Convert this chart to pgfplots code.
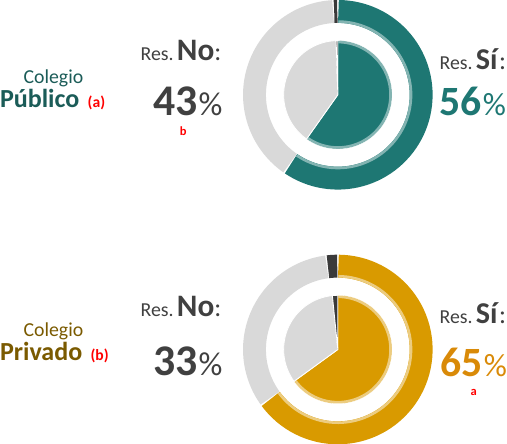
\documentclass[border=0pt]{standalone}
\usepackage{pgfplots}
\pgfplotsset{compat=1.18}
\usepackage{pgfplotstable}
\usepackage{fontspec}
\setmainfont{Carlito}
\definecolor{tealA}{HTML}{1E7773}
\definecolor{tealT}{HTML}{1B5C58}
\definecolor{goldA}{HTML}{D99A00}
\definecolor{goldT}{HTML}{D98A08}
\definecolor{brownT}{HTML}{7A5A00}
\definecolor{grayA}{HTML}{D9D9D9}
\definecolor{darkA}{HTML}{3A3A3A}
\definecolor{txt}{HTML}{404040}
\definecolor{redT}{HTML}{FF0000}
\newcommand\fs[1]{\fontsize{#1bp}{#1bp}\selectfont}

% percentages: Si / No / NS for each ring
\pgfplotstableread{
seg pubOut pubIn privOut privIn
Si  59.6   59.8  65.0    65.0
No  39.6   39.7  33.0    33.4
NS  0.8    0.5   2.0     1.6
}\donutdata

\newcommand\ang[4]{% macro, previous angle, row, column
  \pgfplotstablegetelem{#3}{#4}\of\donutdata
  \pgfmathsetmacro#1{#2-3.6*\pgfplotsretval}}

% ring segment: cx cy from to colour
\newcommand\ringseg[5]{%
  \addplot[draw=#5, line width=22bp, line cap=butt, domain={#4+0.4}:{#3-0.4}, samples=70, variable=\t]
    ({#1+80*cos(\t)},{#2+80*sin(\t)});}
\newcommand\ringrim[5]{%
  \addplot[draw=#5, line width=2.5bp, line cap=butt, domain={#4+0.4}:{#3-0.4}, samples=70, variable=\t]
    ({#1+70.3*cos(\t)},{#2+70.3*sin(\t)});}
% pie segment
\newcommand\pieseg[5]{%
  \addplot[fill=#5, draw=white, line width=0.8bp, domain={#4}:{#3}, samples=70, variable=\t]
    ({#1+52*cos(\t)},{#2+52*sin(\t)}) -- (axis cs:#1,#2) -- cycle;}
\newcommand\pierim[5]{%
  \addplot[draw=#5, line width=2.5bp, line cap=butt, domain={#4+0.6}:{#3-0.6}, samples=70, variable=\t]
    ({#1+50.6*cos(\t)},{#2+50.6*sin(\t)});}

\begin{document}
\begin{tikzpicture}
\ang\pOa{90}{0}{pubOut}\ang\pOb{\pOa}{1}{pubOut}
\ang\pIa{90}{0}{pubIn}\ang\pIb{\pIa}{1}{pubIn}
\ang\vOa{90}{0}{privOut}\ang\vOb{\vOa}{1}{privOut}
\ang\vIa{90}{0}{privIn}\ang\vIb{\vIa}{1}{privIn}
\begin{axis}[scale only axis, width=507bp, height=437bp,
  xmin=0, xmax=507, ymin=0, ymax=437, hide axis, clip=true]
% top donut (Colegio Publico)
\ringseg{339.5}{334.5}{90}{\pOa}{tealA}
\ringrim{339.5}{334.5}{90}{\pOa}{tealA!55!white}
\ringseg{339.5}{334.5}{\pOa}{\pOb}{grayA}
\ringseg{339.5}{334.5}{\pOb}{-270}{darkA}
\pieseg{339.5}{334.5}{90}{\pIa}{tealA}
\pierim{339.5}{334.5}{90}{\pIa}{tealA!55!white}
\pieseg{339.5}{334.5}{\pIa}{\pIb}{grayA}
\pieseg{339.5}{334.5}{\pIb}{-270}{darkA}
% bottom donut (Colegio Privado)
\ringseg{339.5}{90}{90}{\vOa}{goldA}
\ringrim{339.5}{90}{90}{\vOa}{goldA!50!white}
\ringseg{339.5}{90}{\vOa}{\vOb}{grayA}
\ringseg{339.5}{90}{\vOb}{-270}{darkA}
\pieseg{339.5}{90}{90}{\vIa}{goldA}
\pierim{339.5}{90}{90}{\vIa}{goldA!50!white}
\pieseg{339.5}{90}{\vIa}{\vIb}{grayA}
\pieseg{339.5}{90}{\vIb}{-270}{darkA}

% labels top
\node[anchor=base, text=tealT, inner sep=0] at (axis cs:66.5,345) {\fs{19}Colegio};
\node[anchor=base west, inner sep=0] at (axis cs:15,322) {\fs{25}\color{tealT}\textbf{Público}\hspace{8bp}\fs{15}\color{redT}\textbf{(a)}};
\node[anchor=base west, inner sep=0, text=txt] at (axis cs:150,367) {\fs{19}Res.\,\fs{30}\textbf{No}\fs{25}:};
\node[anchor=base west, inner sep=0, text=txt] at (axis cs:162,315) {\fs{42}\textbf{43}\hspace{1bp}\fs{32}\%};
\node[anchor=base, inner sep=0, text=redT] at (axis cs:191,295) {\fs{12}\textbf{b}};
\node[anchor=base west, inner sep=0, text=txt] at (axis cs:437,359) {\fs{19}Res.\,\fs{29}\textbf{Sí}\fs{25}:};
\node[anchor=base west, inner sep=0, text=tealA] at (axis cs:437,315) {\fs{40}\textbf{56}\hspace{1bp}\fs{31}\%};
% labels bottom
\node[anchor=base, text=brownT, inner sep=0] at (axis cs:66.5,102) {\fs{19}Colegio};
\node[anchor=base west, inner sep=0] at (axis cs:15,79) {\fs{25}\color{brownT}\textbf{Privado}\hspace{8bp}\fs{15}\color{redT}\textbf{(b)}};
\node[anchor=base west, inner sep=0, text=txt] at (axis cs:150,122) {\fs{19}Res.\,\fs{30}\textbf{No}\fs{25}:};
\node[anchor=base west, inner sep=0, text=txt] at (axis cs:162,65) {\fs{42}\textbf{33}\hspace{1bp}\fs{32}\%};
\node[anchor=base west, inner sep=0, text=txt] at (axis cs:437,115) {\fs{19}Res.\,\fs{29}\textbf{Sí}\fs{25}:};
\node[anchor=base west, inner sep=0, text=goldT] at (axis cs:438,64) {\fs{40}\textbf{65}\hspace{1bp}\fs{31}\%};
\node[anchor=base, inner sep=0, text=redT] at (axis cs:470,46) {\fs{12}\textbf{a}};
\end{axis}
\end{tikzpicture}
\end{document}
